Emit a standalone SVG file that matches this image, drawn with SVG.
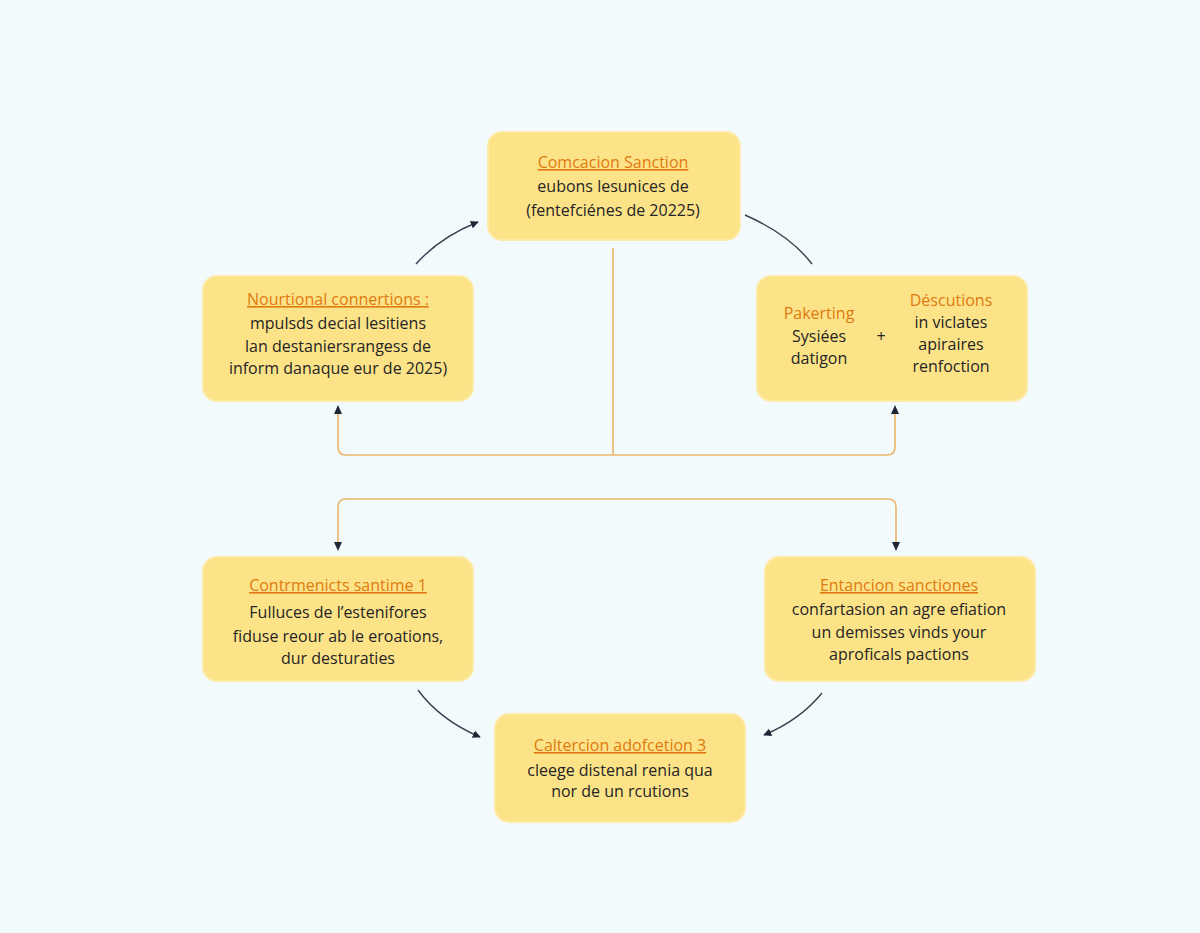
<svg xmlns="http://www.w3.org/2000/svg" width="1200" height="933" viewBox="0 0 1200 933">
<defs>
<style>
.box{fill:#fde388;stroke:#fdeaa6;stroke-width:2}
.t{font-family:"Open Sans","Liberation Sans",Arial,sans-serif;font-size:16px;fill:#e07a10;text-anchor:middle;text-decoration:underline}
.b{font-family:"Open Sans","Liberation Sans",Arial,sans-serif;font-size:16px;fill:#252525;text-anchor:middle}
.o{fill:none;stroke:#eab66a;stroke-width:1.6}
.d{fill:none;stroke:#3a4252;stroke-width:1.4}
</style>
<marker id="ah" viewBox="0 0 10 10" refX="9" refY="5" markerWidth="8" markerHeight="8" orient="auto-start-reverse" markerUnits="userSpaceOnUse">
<path d="M0,0 L10,5 L0,10 z" fill="#1f2636"/>
</marker>
</defs>
<rect width="1200" height="933" fill="#f3fafc"/>
<g id="connectors">
<path class="d" d="M416,264 Q440,237 478,222" marker-end="url(#ah)"/>
<path class="d" d="M745,215 Q790,235 812,264"/>
<path class="o" d="M613,248 V455"/>
<path class="o" d="M338,407 V447 Q338,455 346,455 H887 Q895,455 895,447 V407"/>
<path d="M338,405 l-4,9 h8 z M895,405 l-4,9 h8 z" fill="#1f2636"/>
<path class="o" d="M338,549 V507 Q338,499 346,499 H888 Q896,499 896,507 V549"/>
<path d="M338,551 l-4,-9 h8 z M896,551 l-4,-9 h8 z" fill="#1f2636"/>
<path class="d" d="M418,690 Q440,720 480,737" marker-end="url(#ah)"/>
<path class="d" d="M822,693 Q800,720 764,735" marker-end="url(#ah)"/>
</g>
<g id="n-top">
<rect class="box" x="488" y="132" width="252" height="108" rx="14"/>
<text class="t" x="613" y="168">Comcacion Sanction</text>
<text class="b" x="613" y="192">eubons lesunices de</text>
<text class="b" x="613" y="216">(fentefciénes de 20225)</text>
</g>
<g id="n-left">
<rect class="box" x="203" y="276" width="270" height="125" rx="14"/>
<text class="t" x="338" y="305">Nourtional connertions :</text>
<text class="b" x="338" y="329">mpulsds decial lesitiens</text>
<text class="b" x="338" y="352">lan destaniersrangess de</text>
<text class="b" x="338" y="374">inform danaque eur de 2025)</text>
</g>
<g id="n-right">
<rect class="box" x="757" y="276" width="270" height="125" rx="14"/>
<text class="t" x="819" y="319" style="text-decoration:none">Pakerting</text>
<text class="b" x="819" y="342">Sysiées</text>
<text class="b" x="819" y="364">datigon</text>
<text class="b" x="881" y="342">+</text>
<text class="t" x="951" y="306" style="text-decoration:none">Déscutions</text>
<text class="b" x="951" y="328">in viclates</text>
<text class="b" x="951" y="350">apiraires</text>
<text class="b" x="951" y="372">renfoction</text>
</g>
<g id="n-bl">
<rect class="box" x="203" y="557" width="270" height="124" rx="14"/>
<text class="t" x="338" y="591">Contrmenicts santime 1</text>
<text class="b" x="338" y="618">Fulluces de l’estenifores</text>
<text class="b" x="338" y="642">fiduse reour ab le eroations,</text>
<text class="b" x="338" y="664">dur desturaties</text>
</g>
<g id="n-br">
<rect class="box" x="765" y="557" width="270" height="124" rx="14"/>
<text class="t" x="899" y="591">Entancion sanctiones</text>
<text class="b" x="899" y="615">confartasion an agre efiation</text>
<text class="b" x="899" y="638">un demisses vinds your</text>
<text class="b" x="899" y="660">aproficals pactions</text>
</g>
<g id="n-bottom">
<rect class="box" x="495" y="714" width="250" height="108" rx="14"/>
<text class="t" x="620" y="751">Caltercion adofcetion 3</text>
<text class="b" x="620" y="776">cleege distenal renia qua</text>
<text class="b" x="620" y="797">nor de un rcutions</text>
</g>
</svg>
